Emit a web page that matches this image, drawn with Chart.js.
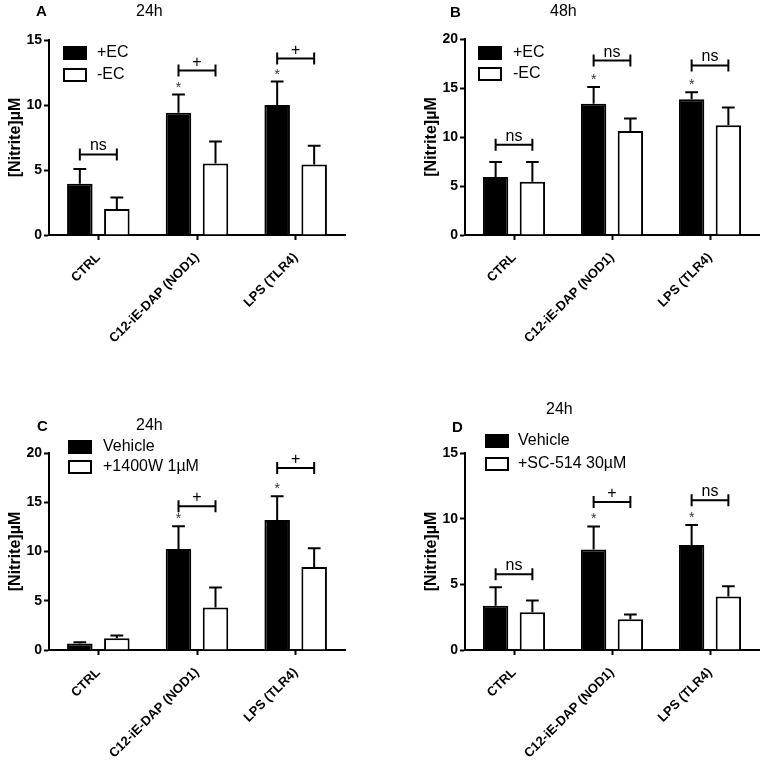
<!DOCTYPE html>
<html>
<head>
    <title>Nitrite production</title>
    <style>
        body {
            margin: 0;
            padding: 0;
            background-color: #fff;
        }

        #figure {
            position: relative;
            width: 764px;
            height: 768px;
        }

        .panel {
            position: absolute;
            width: 382px;
            height: 384px;
        }
    </style>
    <script src="https://cdn.jsdelivr.net/npm/chart.js"></script>
</head>
<body>
    <div id="figure">
        <div class="panel" style="left:0;top:0"><canvas id="chart-a" width="382" height="384"></canvas></div>
        <div class="panel" style="left:382px;top:0"><canvas id="chart-b" width="382" height="384"></canvas></div>
        <div class="panel" style="left:0;top:384px"><canvas id="chart-c" width="382" height="384"></canvas></div>
        <div class="panel" style="left:382px;top:384px"><canvas id="chart-d" width="382" height="384"></canvas></div>
    </div>

<script>
    var categories = ['CTRL', 'C12-iE-DAP (NOD1)', 'LPS (TLR4)'];

    // A: 24h, +EC / -EC
    var aPlusEC = [3.95, 9.4, 10.0];
    var aPlusECErr = [1.12, 1.4, 1.8];
    var aMinusEC = [2.0, 5.5, 5.43];
    var aMinusECErr = [0.88, 1.7, 1.43];
    var aBracketY = [6.2, 12.65, 13.57];
    var aBracketText = ['ns', '+', '+'];
    var aStars = [false, true, true];
    var aTicks = [0, 5, 10, 15];

    // B: 48h, +EC / -EC
    var bPlusEC = [5.92, 13.4, 13.85];
    var bPlusECErr = [1.53, 1.7, 0.71];
    var bMinusEC = [5.44, 10.6, 11.2];
    var bMinusECErr = [2.01, 1.3, 1.8];
    var bBracketY = [9.2, 17.8, 17.3];
    var bBracketText = ['ns', 'ns', 'ns'];
    var bStars = [false, true, true];
    var bTicks = [0, 5, 10, 15, 20];

    // C: 24h, vehicle / +1400W 1uM
    var cVehicle = [0.65, 10.25, 13.2];
    var cVehicleErr = [0.13, 2.31, 2.4];
    var c1400W = [1.19, 4.32, 8.42];
    var c1400WErr = [0.28, 2.03, 1.91];
    var cBracketY = [null, 14.6, 18.47];
    var cBracketText = [null, '+', '+'];
    var cStars = [false, true, true];
    var cTicks = [0, 5, 10, 15, 20];

    // D: 24h, vehicle / +SC-514 30uM
    var dVehicle = [3.36, 7.66, 8.0];
    var dVehicleErr = [1.42, 1.75, 1.51];
    var dSC514 = [2.88, 2.34, 4.07];
    var dSC514Err = [0.89, 0.36, 0.79];
    var dBracketY = [5.77, 11.27, 11.4];
    var dBracketText = ['ns', '+', 'ns'];
    var dStars = [false, true, true];
    var dTicks = [0, 5, 10, 15];

    var FONT = 'Arial, "Liberation Sans", sans-serif';

    // error bars, stars, significance brackets, panel letter, title and legend
    var extrasPlugin = {
        id: 'extras',
        afterDatasetsDraw: function(chart, args, opts) {
            var ctx = chart.ctx;
            var y = chart.scales.y;
            ctx.save();
            ctx.strokeStyle = '#000';
            ctx.lineWidth = 2;
            chart.data.datasets.forEach(function(ds, di) {
                var meta = chart.getDatasetMeta(di);
                meta.data.forEach(function(bar, i) {
                    var top = y.getPixelForValue(ds.data[i] + opts.errors[di][i]);
                    var half = bar.width / 4;
                    ctx.beginPath();
                    ctx.moveTo(bar.x, bar.y);
                    ctx.lineTo(bar.x, top);
                    ctx.moveTo(bar.x - half, top);
                    ctx.lineTo(bar.x + half, top);
                    ctx.stroke();
                    if (di === 0 && opts.stars[i]) {
                        ctx.fillStyle = '#333';
                        ctx.font = '14px ' + FONT;
                        ctx.textAlign = 'center';
                        ctx.textBaseline = 'alphabetic';
                        ctx.fillText('*', bar.x, top - 3);
                    }
                });
            });

            var m0 = chart.getDatasetMeta(0);
            var m1 = chart.getDatasetMeta(1);
            opts.brackets.forEach(function(v, i) {
                if (v === null) return;
                var x0 = m0.data[i].x;
                var x1 = m1.data[i].x;
                var by = y.getPixelForValue(v);
                ctx.beginPath();
                ctx.moveTo(x0, by);
                ctx.lineTo(x1, by);
                ctx.moveTo(x0, by - 6);
                ctx.lineTo(x0, by + 6);
                ctx.moveTo(x1, by - 6);
                ctx.lineTo(x1, by + 6);
                ctx.stroke();
                ctx.fillStyle = '#000';
                ctx.font = '16px ' + FONT;
                ctx.textAlign = 'center';
                ctx.textBaseline = 'alphabetic';
                ctx.fillText(opts.bracketText[i], (x0 + x1) / 2, by - 4);
            });
            ctx.restore();
        },
        afterDraw: function(chart, args, opts) {
            var ctx = chart.ctx;
            ctx.save();
            ctx.fillStyle = '#000';
            ctx.textBaseline = 'middle';
            ctx.textAlign = 'left';
            ctx.font = 'bold 15px ' + FONT;
            ctx.fillText(opts.letter, opts.letterPos[0], opts.letterPos[1]);
            ctx.font = '16px ' + FONT;
            ctx.fillText(opts.title, opts.titlePos[0], opts.titlePos[1]);

            // legend
            var lg = opts.legend;
            chart.data.datasets.forEach(function(ds, di) {
                var cy = lg.y + di * lg.gap;
                ctx.lineWidth = 2;
                ctx.strokeStyle = '#000';
                ctx.fillStyle = ds.backgroundColor;
                ctx.fillRect(lg.x, cy - 6, 22, 12);
                ctx.strokeRect(lg.x, cy - 6, 22, 12);
                ctx.fillStyle = '#000';
                ctx.font = '16px ' + FONT;
                ctx.fillText(ds.label, lg.textX, cy);
            });
            ctx.restore();
        }
    };

    function makeChart(id, p) {
        var ctx = document.getElementById(id).getContext('2d');
        return new Chart(ctx, {
            type: 'bar',
            data: {
                labels: categories,
                datasets: [
                    {
                        label: p.labels[0],
                        data: p.series[0],
                        backgroundColor: '#000',
                        borderColor: '#000',
                        borderWidth: 2
                    },
                    {
                        label: p.labels[1],
                        data: p.series[1],
                        backgroundColor: '#fff',
                        borderColor: '#000',
                        borderWidth: 2
                    }
                ]
            },
            options: {
                responsive: false,
                animation: false,
                devicePixelRatio: 1,
                categoryPercentage: 0.75,
                barPercentage: 0.69,
                layout: {
                    padding: p.padding
                },
                plugins: {
                    legend: { display: false },
                    tooltip: { enabled: false },
                    extras: {
                        errors: p.errors,
                        brackets: p.brackets,
                        bracketText: p.bracketText,
                        stars: p.stars,
                        letter: p.letter,
                        letterPos: p.letterPos,
                        title: p.title,
                        titlePos: p.titlePos,
                        legend: p.legend
                    }
                },
                scales: {
                    x: {
                        afterFit: function(s) { s.height = p.xHeight; },
                        grid: {
                            offset: false,
                            drawOnChartArea: false,
                            drawTicks: true,
                            tickLength: 5,
                            tickWidth: 2,
                            tickColor: '#000'
                        },
                        border: { display: true, color: '#000', width: 2 },
                        ticks: {
                            autoSkip: false,
                            minRotation: 45,
                            maxRotation: 45,
                            padding: 10,
                            color: '#000',
                            font: { family: FONT, size: 13, weight: 'bold' }
                        }
                    },
                    y: {
                        min: 0,
                        max: p.ticks[p.ticks.length - 1],
                        afterFit: function(s) { s.width = 49; },
                        grid: {
                            drawOnChartArea: false,
                            drawTicks: true,
                            tickLength: 5,
                            tickWidth: 2,
                            tickColor: '#000'
                        },
                        border: { display: true, color: '#000', width: 2 },
                        ticks: {
                            stepSize: p.ticks[1] - p.ticks[0],
                            padding: 2,
                            color: '#000',
                            font: { family: FONT, size: 14, weight: 'bold' }
                        },
                        title: {
                            display: true,
                            text: '[Nitrite]\u00b5M',
                            color: '#000',
                            padding: { top: 6, bottom: 0 },
                            font: { family: FONT, size: 16, weight: 'bold' }
                        }
                    }
                }
            },
            plugins: [extrasPlugin]
        });
    }

    makeChart('chart-a', {
        labels: ['+EC', '-EC'],
        series: [aPlusEC, aMinusEC],
        errors: [aPlusECErr, aMinusECErr],
        brackets: aBracketY,
        bracketText: aBracketText,
        stars: aStars,
        ticks: aTicks,
        padding: { left: 0, top: 40, right: 37, bottom: 0 },
        xHeight: 149,
        letter: 'A', letterPos: [36, 12],
        title: '24h', titlePos: [136, 12],
        legend: { x: 64, y: 53, gap: 22, textX: 97 }
    });

    makeChart('chart-b', {
        labels: ['+EC', '-EC'],
        series: [bPlusEC, bMinusEC],
        errors: [bPlusECErr, bMinusECErr],
        brackets: bBracketY,
        bracketText: bBracketText,
        stars: bStars,
        ticks: bTicks,
        padding: { left: 34, top: 39, right: 5, bottom: 0 },
        xHeight: 149,
        letter: 'B', letterPos: [68, 13],
        title: '48h', titlePos: [168, 12],
        legend: { x: 97, y: 53, gap: 21, textX: 131 }
    });

    makeChart('chart-c', {
        labels: ['Vehicle', '+1400W 1\u00b5M'],
        series: [cVehicle, c1400W],
        errors: [cVehicleErr, c1400WErr],
        brackets: cBracketY,
        bracketText: cBracketText,
        stars: cStars,
        ticks: cTicks,
        padding: { left: 0, top: 69, right: 37, bottom: 0 },
        xHeight: 118,
        letter: 'C', letterPos: [37, 43],
        title: '24h', titlePos: [136, 42],
        legend: { x: 69, y: 63, gap: 20, textX: 103 }
    });

    makeChart('chart-d', {
        labels: ['Vehicle', '+SC-514 30\u00b5M'],
        series: [dVehicle, dSC514],
        errors: [dVehicleErr, dSC514Err],
        brackets: dBracketY,
        bracketText: dBracketText,
        stars: dStars,
        ticks: dTicks,
        padding: { left: 34, top: 69, right: 5, bottom: 0 },
        xHeight: 118,
        letter: 'D', letterPos: [70, 44],
        title: '24h', titlePos: [164, 26],
        legend: { x: 104, y: 57, gap: 23, textX: 136 }
    });
</script>

</body>
</html>
